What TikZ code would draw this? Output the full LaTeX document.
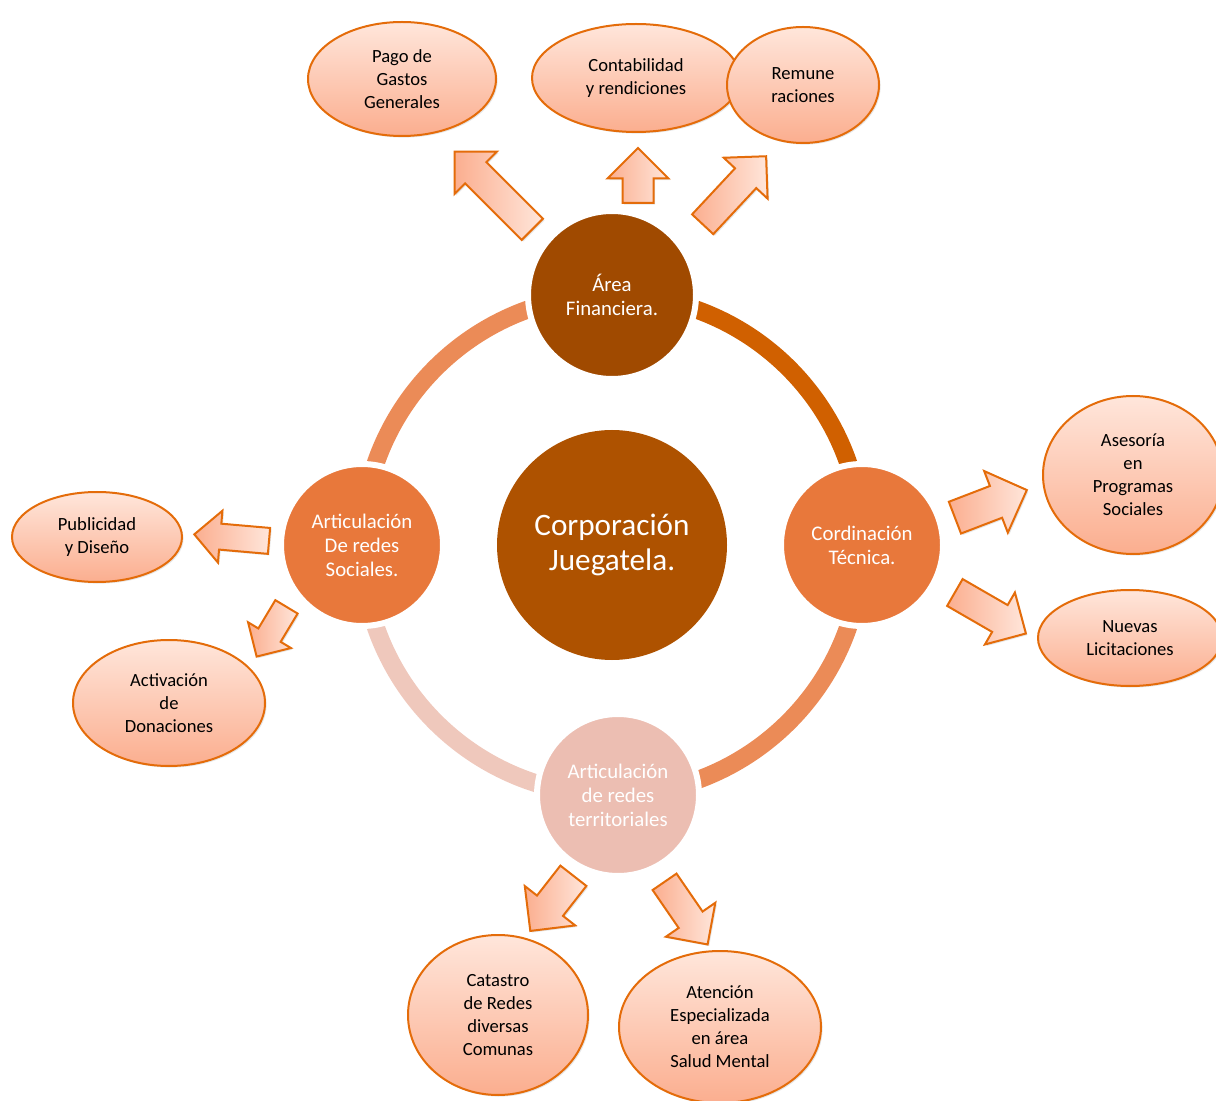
\documentclass[tikz,border=0pt]{standalone}
\usepackage{fontspec}
\setmainfont{Carlito}
\usetikzlibrary{positioning, shapes.geometric, shapes.arrows, shadows}

\definecolor{edgeorange}{HTML}{E46C0A}
\definecolor{peachtop}{HTML}{FFE6DB}
\definecolor{peachbot}{HTML}{FBAE8F}
\definecolor{hubbrown}{HTML}{AE5200}
\definecolor{topbrown}{HTML}{A04A00}
\definecolor{sideorange}{HTML}{E8783B}
\definecolor{palepink}{HTML}{ECBEB2}
\definecolor{ringdark}{HTML}{D06000}
\definecolor{ringmid}{HTML}{EB8B57}
\definecolor{ringpale}{HTML}{EFC8BC}

\begin{document}
\begin{tikzpicture}[x=0.5pt, y=-0.5pt,
    every node/.style={align=center},
    hub/.style={circle, fill=hubbrown, text=white, inner sep=0pt, minimum size=115pt,
        font=\fontsize{15.6pt}{17.5pt}\selectfont},
    area/.style={circle, draw=white, line width=3pt, text=white, inner sep=0pt, minimum size=81pt,
        font=\fontsize{10.4pt}{12pt}\selectfont},
    task/.style={ellipse, draw=edgeorange, line width=1pt, top color=peachtop, bottom color=peachbot,
        inner sep=0pt, font=\fontsize{9.3pt}{11.5pt}\selectfont,
        drop shadow={opacity=0.2, shadow xshift=0.8pt, shadow yshift=-0.8pt}},
    barrow/.style={single arrow, draw=edgeorange, line width=1pt, left color=peachbot, right color=peachtop,
        single arrow tip angle=90, single arrow head indent=0pt, inner xsep=0pt, inner ysep=7pt,
        single arrow head extend=7.5pt, anchor=tail,
        drop shadow={opacity=0.2, shadow xshift=0.8pt, shadow yshift=-0.8pt}},
    ring/.style={line width=9pt},
]

\useasboundingbox (0,0) rectangle (1216,1101);
\clip (0,0) rectangle (1216,1101);

\coordinate (c) at (612,545);

% ring
\draw[ring, ringdark] ([shift={(-90:250)}]c) arc[start angle=-90, end angle=0, radius=250];
\draw[ring, ringmid] ([shift={(0:250)}]c) arc[start angle=0, end angle=90, radius=250];
\draw[ring, ringpale] ([shift={(90:250)}]c) arc[start angle=90, end angle=180, radius=250];
\draw[ring, ringmid] ([shift={(180:250)}]c) arc[start angle=180, end angle=270, radius=250];

\node[hub] (corp) at (c) {Corporación\\Juegatela.};

\node[area, fill=topbrown, minimum size=84pt] (fin) at (612,295) {Área\\Financiera.};
\node[area, fill=sideorange] (tec) at (862,545) {Cordinación\\Técnica.};
\node[area, fill=palepink] (terr) at (618,795) {Articulación\\de redes\\territoriales};
\node[area, fill=sideorange] (soc) at (362,545) {Articulación\\De redes\\Sociales.};

% tareas
\node[task, minimum width=94pt, minimum height=57pt] (pago) at (402,79) {Pago de\\Gastos\\Generales};
\node[task, minimum width=104pt, minimum height=54pt] (conta) at (636,78) {Contabilidad\\y rendiciones};
\node[task, minimum width=76pt, minimum height=58pt] (remu) at (803,85) {Remune\\raciones};
\node[task, minimum width=90pt, minimum height=79pt] (ases) at (1133,475) {Asesoría\\en\\Programas\\Sociales};
\node[task, minimum width=92pt, minimum height=48pt] (licit) at (1130,638) {Nuevas\\Licitaciones};
\node[task, minimum width=85pt, minimum height=45pt] (publi) at (97,537) {Publicidad\\y Diseño};
\node[task, minimum width=96pt, minimum height=63pt] (dona) at (169,703) {Activación\\de\\Donaciones};
\node[task, minimum width=90pt, minimum height=80pt] (catas) at (498,1015) {Catastro\\de Redes\\diversas\\Comunas};
\node[task, minimum width=101pt, minimum height=76pt] (salud) at (720,1027) {Atención\\Especializada\\en área\\Salud Mental};

% flechas
\node[barrow, rotate=135, minimum height=55pt] (arPago) at (533,230) {};
\node[barrow, rotate=90, minimum height=27.5pt, inner ysep=7.25pt] (arConta) at (638,204) {};
\node[barrow, rotate=47, minimum height=46.5pt, inner ysep=6.75pt, single arrow head extend=7.75pt] (arRemu) at (702,225) {};
\node[barrow, rotate=21, minimum height=38.5pt, inner ysep=8pt, single arrow head extend=8pt] (arAses) at (954,518) {};
\node[barrow, rotate=-30, minimum height=41pt, inner ysep=7.25pt, single arrow head extend=7.25pt] (arLicit) at (954,592) {};
\node[barrow, rotate=175, minimum height=37.5pt, inner ysep=6pt, single arrow head extend=6.5pt] (arPubli) at (270,541) {};
\node[barrow, rotate=239, minimum height=29pt, inner ysep=6pt, single arrow head extend=6pt] (arDona) at (287,606) {};
\node[barrow, rotate=232, minimum height=35pt, inner ysep=7.75pt, single arrow head extend=7.75pt] (arCatas) at (574,875) {};
\node[barrow, rotate=-55.5, minimum height=38pt, inner ysep=6.75pt, single arrow head extend=7.75pt] (arSalud) at (664,881) {};

\end{tikzpicture}
\end{document}
